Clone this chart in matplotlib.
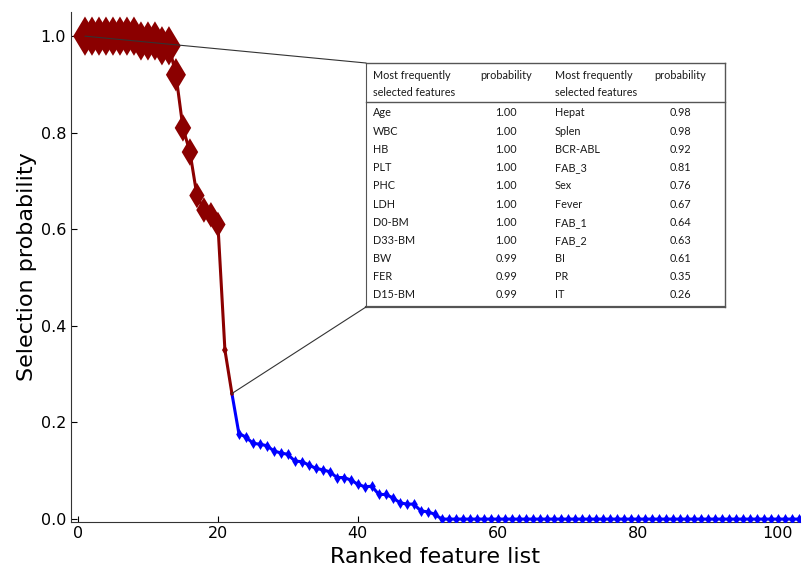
import numpy as np
import matplotlib
matplotlib.use("Agg")
import matplotlib.pyplot as plt
from matplotlib.patches import ConnectionPatch
from matplotlib.lines import Line2D

# table content (top 22 features)
feat_left = ["Age", "WBC", "HB", "PLT", "PHC", "LDH", "D0-BM", "D33-BM", "BW", "FER", "D15-BM"]
prob_left = [1.00, 1.00, 1.00, 1.00, 1.00, 1.00, 1.00, 1.00, 0.99, 0.99, 0.99]
feat_right = ["Hepat", "Splen", "BCR-ABL", "FAB_3", "Sex", "Fever", "FAB_1", "FAB_2", "BI", "PR", "IT"]
prob_right = [0.98, 0.98, 0.92, 0.81, 0.76, 0.67, 0.64, 0.63, 0.61, 0.35, 0.26]

# remaining ranked features (rank 22 onwards, blue part)
blue_vals = [0.26, 0.177, 0.170, 0.157, 0.155, 0.152, 0.141, 0.137, 0.134, 0.120, 0.119,
             0.112, 0.105, 0.102, 0.098, 0.086, 0.086, 0.081, 0.072, 0.067, 0.068,
             0.051, 0.051, 0.044, 0.034, 0.031, 0.031, 0.017, 0.015, 0.010] + [0.0] * 52

red_vals = prob_left + prob_right
red_x = np.arange(1, len(red_vals) + 1)
blue_x = np.arange(len(red_vals), len(red_vals) + len(blue_vals))

# marker sizes used for the red points
red_ms = [20] * 13 + [17, 14, 14, 13, 13, 13, 13, 5, 3]

W, H = 802, 566
fig = plt.figure(figsize=(W / 100, H / 100), dpi=100)
ax = fig.add_axes([71 / W, 1 - 521.5 / H, (800 - 71) / W, (521.5 - 12) / H])

ax.plot(blue_x, blue_vals, color="blue", lw=2.2, zorder=2)
ax.scatter(blue_x[1:], blue_vals[1:], marker="d", s=5.6 ** 2, color="blue", linewidths=0, zorder=3)
ax.plot(red_x, red_vals, color="#8b0000", lw=2.2, zorder=4)
ax.scatter(red_x, red_vals, marker="d", s=np.array(red_ms) ** 2, color="#8b0000", linewidths=0, zorder=5)

ax.set_xlim(-1, 103.2)
ax.set_ylim(-0.005, 1.05)
ax.set_xticks([0, 20, 40, 60, 80, 100])
ax.set_yticks([0.0, 0.2, 0.4, 0.6, 0.8, 1.0])
ax.yaxis.set_major_formatter(matplotlib.ticker.FormatStrFormatter("%.1f"))
ax.spines["top"].set_visible(False)
ax.spines["right"].set_visible(False)
for s in ["left", "bottom"]:
    ax.spines[s].set_color("#333333")
ax.tick_params(direction="in", length=4, labelsize=11.5, colors="black")
ax.set_xlabel("Ranked feature list", fontsize=16, labelpad=4)
ax.set_ylabel("Selection probability", fontsize=16)
ax.yaxis.set_label_coords(-0.047, 0.5)

# table drawn in figure pixels
def fx(px):
    return px / W

def fy(py):
    return 1 - py / H

tl, tr, tt, tsep, tb = 366, 725, 63, 102, 307
lc = "#555555"
for (x0, y0, x1, y1, lw) in [(tl, tt, tr, tt, 1.0), (tl, tsep, tr, tsep, 1.0),
                              (tl, tb, tr, tb, 1.6), (tl, tt, tl, tb, 0.8), (tr, tt, tr, tb, 1.0)]:
    fig.add_artist(Line2D([fx(x0), fx(x1)], [fy(y0), fy(y1)], color=lc, lw=lw,
                          transform=fig.transFigure))

tfont = dict(family="Lato", fontsize=7.8, color="#1a1a1a", va="center")
col_x = [373, 506, 555, 680]
for cx, ha in [(col_x[0], "left"), (col_x[2], "left")]:
    fig.text(fx(cx), fy(75), "Most frequently", ha=ha, **tfont)
    fig.text(fx(cx), fy(92), "selected features", ha=ha, **tfont)
for cx in [col_x[1], col_x[3]]:
    fig.text(fx(cx), fy(75), "probability", ha="center", **tfont)

for i in range(len(feat_left)):
    ry = 113 + i * 18.2
    fig.text(fx(col_x[0]), fy(ry), feat_left[i], ha="left", **tfont)
    fig.text(fx(col_x[1]), fy(ry), "%.2f" % prob_left[i], ha="center", **tfont)
    fig.text(fx(col_x[2]), fy(ry), feat_right[i], ha="left", **tfont)
    fig.text(fx(col_x[3]), fy(ry), "%.2f" % prob_right[i], ha="center", **tfont)

# connector lines from first and last red point to the table
for (px, py), (bx, by) in [((red_x[0], red_vals[0]), (tl, tt)), ((red_x[-1], red_vals[-1]), (tl, tb))]:
    con = ConnectionPatch(xyA=(px, py), coordsA=ax.transData,
                          xyB=(fx(bx), fy(by)), coordsB=fig.transFigure,
                          color="#333333", lw=0.8, zorder=6)
    fig.add_artist(con)

fig.savefig("out.png", dpi=100)
